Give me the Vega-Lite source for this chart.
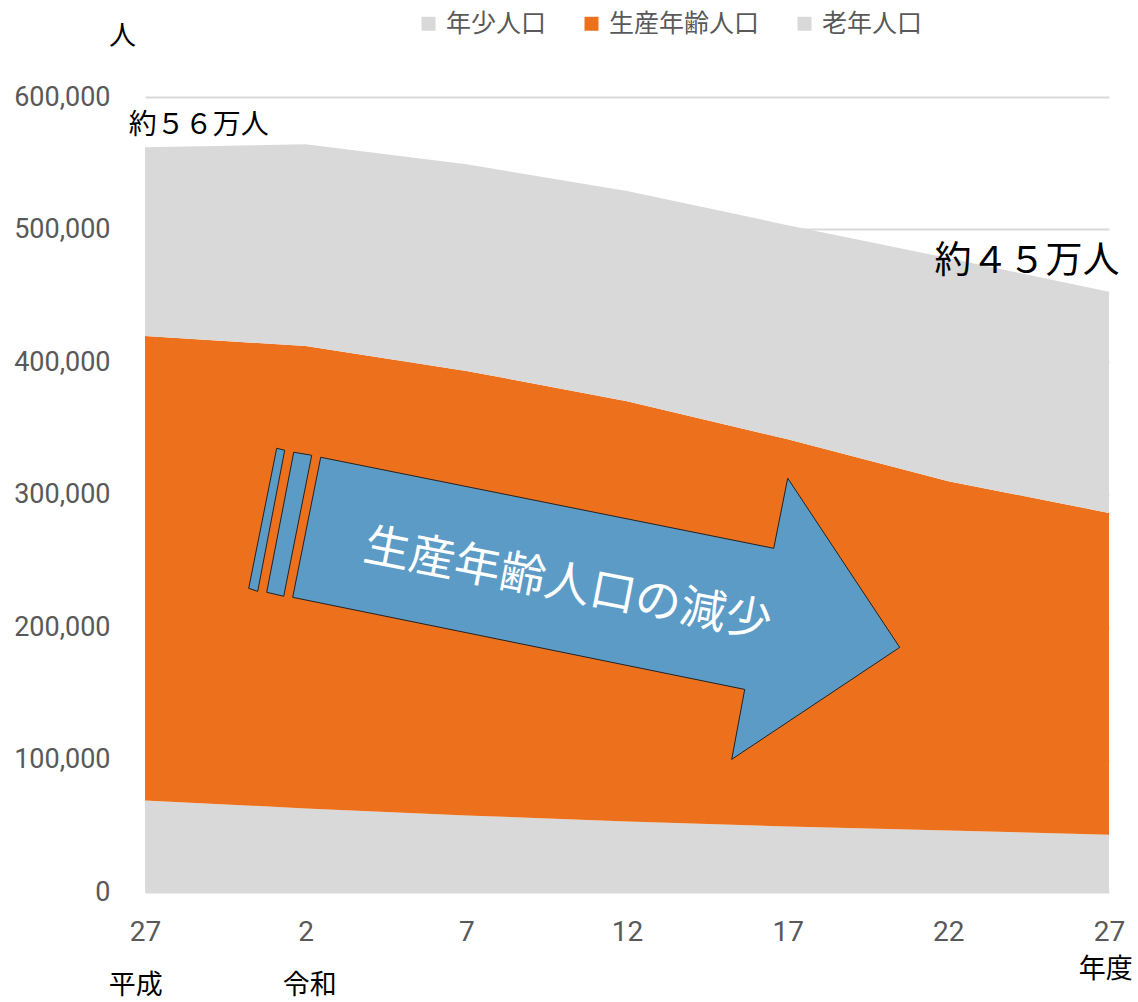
{
  "$schema": "https://vega.github.io/schema/vega-lite/v6.json",
  "width": 964,
  "height": 795,
  "autosize": {"type": "none"},
  "padding": {"left": 145, "top": 97, "right": 29, "bottom": 110},
  "background": "white",
  "config": {
    "view": {"stroke": null},
    "font": "Noto Sans CJK JP"
  },
  "datasets": {
    "pop": [
      {"i": 0, "group": "年少人口", "ord": 1, "value": 69100},
      {"i": 1, "group": "年少人口", "ord": 1, "value": 63100},
      {"i": 2, "group": "年少人口", "ord": 1, "value": 57800},
      {"i": 3, "group": "年少人口", "ord": 1, "value": 53200},
      {"i": 4, "group": "年少人口", "ord": 1, "value": 49500},
      {"i": 5, "group": "年少人口", "ord": 1, "value": 46400},
      {"i": 6, "group": "年少人口", "ord": 1, "value": 43200},
      {"i": 0, "group": "生産年齢人口", "ord": 2, "value": 350600},
      {"i": 1, "group": "生産年齢人口", "ord": 2, "value": 348900},
      {"i": 2, "group": "生産年齢人口", "ord": 2, "value": 335500},
      {"i": 3, "group": "生産年齢人口", "ord": 2, "value": 317200},
      {"i": 4, "group": "生産年齢人口", "ord": 2, "value": 292200},
      {"i": 5, "group": "生産年齢人口", "ord": 2, "value": 263600},
      {"i": 6, "group": "生産年齢人口", "ord": 2, "value": 242900},
      {"i": 0, "group": "老年人口", "ord": 3, "value": 142300},
      {"i": 1, "group": "老年人口", "ord": 3, "value": 152300},
      {"i": 2, "group": "老年人口", "ord": 3, "value": 155900},
      {"i": 3, "group": "老年人口", "ord": 3, "value": 158600},
      {"i": 4, "group": "老年人口", "ord": 3, "value": 161600},
      {"i": 5, "group": "老年人口", "ord": 3, "value": 168400},
      {"i": 6, "group": "老年人口", "ord": 3, "value": 166900}
    ],
    "arrow": [
      {"shape": "body", "k": 1, "x": 1.0936, "y": 328100},
      {"shape": "body", "k": 2, "x": 3.9132, "y": 259400},
      {"shape": "body", "k": 3, "x": 4.0003, "y": 312300},
      {"shape": "body", "k": 4, "x": 4.6974, "y": 184600},
      {"shape": "body", "k": 5, "x": 3.6517, "y": 100100},
      {"shape": "body", "k": 6, "x": 3.7326, "y": 152900},
      {"shape": "body", "k": 7, "x": 0.9193, "y": 222400},
      {"shape": "body", "k": 8, "x": 1.0936, "y": 328100},
      {"shape": "s1", "k": 1, "x": 0.8197, "y": 334900},
      {"shape": "s1", "k": 2, "x": 0.8695, "y": 333400},
      {"shape": "s1", "k": 3, "x": 0.7014, "y": 226900},
      {"shape": "s1", "k": 4, "x": 0.6454, "y": 229200},
      {"shape": "s1", "k": 5, "x": 0.8197, "y": 334900},
      {"shape": "s2", "k": 1, "x": 0.9255, "y": 331900},
      {"shape": "s2", "k": 2, "x": 1.0376, "y": 329600},
      {"shape": "s2", "k": 3, "x": 0.8633, "y": 223200},
      {"shape": "s2", "k": 4, "x": 0.7575, "y": 226200},
      {"shape": "s2", "k": 5, "x": 0.9255, "y": 331900}
    ]
  },
  "layer": [
    {
      "data": {"name": "pop"},
      "mark": {"type": "area", "opacity": 1},
      "encoding": {
        "x": {
          "field": "i",
          "type": "quantitative",
          "scale": {"domain": [0, 6], "nice": false, "zero": false},
          "axis": {
            "title": null,
            "values": [0, 1, 2, 3, 4, 5, 6],
            "labelExpr": "['27','2','7','12','17','22','27'][datum.value]",
            "grid": false,
            "ticks": false,
            "tickSize": 0,
            "domain": false,
            "labelFont": "Roboto",
            "labelFontSize": 28,
            "labelColor": "#595959",
            "labelPadding": 26,
            "labelFlush": false,
            "labelOverlap": false
          }
        },
        "y": {
          "field": "value",
          "type": "quantitative",
          "stack": "zero",
          "scale": {"domain": [0, 600000], "nice": false},
          "axis": {
            "title": "人",
            "titleAngle": 0,
            "titleX": -23,
            "titleY": -61,
            "titleAlign": "center",
            "titleBaseline": "middle",
            "titleFont": "Noto Sans CJK JP",
            "titleFontSize": 27,
            "titleFontWeight": "normal",
            "titleColor": "#000000",
            "values": [0, 100000, 200000, 300000, 400000, 500000, 600000],
            "labelExpr": "format(datum.value, ',')",
            "grid": true,
            "gridColor": "#d9d9d9",
            "gridWidth": 2,
            "ticks": false,
            "tickSize": 0,
            "domain": false,
            "labelFont": "Roboto",
            "labelFontSize": 27,
            "labelColor": "#595959",
            "labelPadding": 35
          }
        },
        "color": {
          "field": "group",
          "type": "nominal",
          "sort": ["年少人口", "生産年齢人口", "老年人口"],
          "scale": {
            "domain": ["年少人口", "生産年齢人口", "老年人口"],
            "range": ["#d9d9d9", "#ed711c", "#d9d9d9"]
          },
          "legend": {
            "title": null,
            "orient": "none",
            "legendX": 271,
            "legendY": -86,
            "direction": "horizontal",
            "symbolType": "square",
            "symbolSize": 196,
            "symbolStrokeWidth": 0,
            "labelFont": "Noto Sans CJK JP",
            "labelFontSize": 25,
            "labelColor": "#595959",
            "labelOffset": 5,
            "columnPadding": 32
          }
        },
        "order": {"field": "ord", "type": "quantitative"}
      }
    },
    {
      "data": {"name": "arrow"},
      "mark": {"type": "line", "fill": "#5b9bc6", "stroke": "#222222", "strokeWidth": 1, "interpolate": "linear"},
      "encoding": {
        "x": {"field": "x", "type": "quantitative"},
        "y": {"field": "y", "type": "quantitative"},
        "detail": {"field": "shape", "type": "nominal"},
        "order": {"field": "k", "type": "quantitative"}
      }
    },
    {
      "data": {"values": [{"x": 2.63, "y": 231500, "label": "生産年齢人口の減少"}]},
      "mark": {"type": "text", "angle": 11, "fontSize": 46, "color": "white", "font": "Noto Sans CJK JP", "align": "center", "baseline": "middle"},
      "encoding": {
        "x": {"field": "x", "type": "quantitative"},
        "y": {"field": "y", "type": "quantitative"},
        "text": {"field": "label"}
      }
    },
    {
      "data": {"values": [{"x": 0.334, "y": 578100, "label": "約５６万人"}]},
      "mark": {"type": "text", "fontSize": 28, "color": "black", "font": "Noto Sans CJK JP", "align": "center", "baseline": "middle"},
      "encoding": {
        "x": {"field": "x", "type": "quantitative"},
        "y": {"field": "y", "type": "quantitative"},
        "text": {"field": "label"}
      }
    },
    {
      "data": {"values": [{"x": 5.49, "y": 475400, "label": "約４５万人"}]},
      "mark": {"type": "text", "fontSize": 37, "color": "black", "font": "Noto Sans CJK JP", "align": "center", "baseline": "middle"},
      "encoding": {
        "x": {"field": "x", "type": "quantitative"},
        "y": {"field": "y", "type": "quantitative"},
        "text": {"field": "label"}
      }
    },
    {
      "data": {"values": [
        {"x": -0.058, "y": -71000, "label": "平成"},
        {"x": 1.026, "y": -71000, "label": "令和"},
        {"x": 5.98, "y": -59000, "label": "年度"}
      ]},
      "mark": {"type": "text", "fontSize": 27, "color": "black", "font": "Noto Sans CJK JP", "align": "center", "baseline": "middle"},
      "encoding": {
        "x": {"field": "x", "type": "quantitative"},
        "y": {"field": "y", "type": "quantitative"},
        "text": {"field": "label"}
      }
    }
  ]
}
